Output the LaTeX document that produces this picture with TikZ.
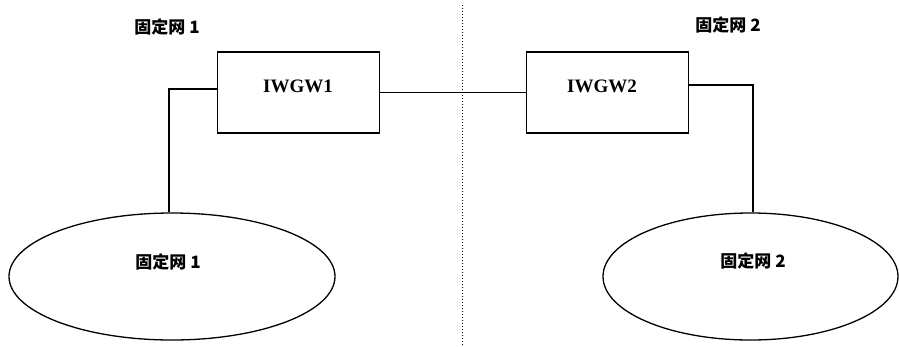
\documentclass[tikz,border=0pt]{standalone}
\usepackage{fontspec}
\setmainfont{Liberation Serif}
\newfontfamily\cjk{Noto Sans CJK SC}
\usetikzlibrary{shapes.geometric}
\begin{document}
\begin{tikzpicture}[x=1pt,y=-1pt,
  gw/.style={draw,line width=1.3pt,minimum width=162pt,minimum height=81pt,anchor=center,inner sep=0pt},
  net/.style={draw,line width=1.3pt,ellipse,inner sep=0pt},
  lbl/.style={font=\fontsize{17}{20}\selectfont\cjk\bfseries},
  lat/.style={font=\fontsize{19}{22}\selectfont\bfseries},
  wire/.style={line width=1.3pt}]
\useasboundingbox (0,0) rectangle (899,346);
\node[gw] (g1) at (298.5,92.5) {};
\node[gw] (g2) at (607.5,92.5) {};
\node[lat] (t1) at (298,86) {IWGW1};
\node[lat] (t2) at (602,86) {IWGW2};
\node[net,minimum width=326pt,minimum height=127pt] (n1) at (172,276.5) {};
\node[net,minimum width=295pt,minimum height=127pt] (n2) at (750.5,276.5) {};
\node[lbl] (l1) at (168,262) {固定网 1};
\node[lbl] (l2) at (753,261) {固定网 2};
\node[lbl] (h1) at (167,27) {固定网 1};
\node[lbl] (h2) at (728,25) {固定网 2};
\coordinate (d1) at (462,5);
\coordinate (d2) at (462,346);
\draw[line width=1pt,dotted] (d1) -- (d2);
\draw[line width=1pt] (g1.east) -- (g2.west);
\coordinate (c1) at (169,89);
\coordinate (c2) at (753,85);
\draw[wire] (g1.west |- c1) -- (c1) -- (c1 |- n1.north);
\draw[wire] (g2.east |- c2) -- (c2) -- (c2 |- n2.north);
\end{tikzpicture}
\end{document}
